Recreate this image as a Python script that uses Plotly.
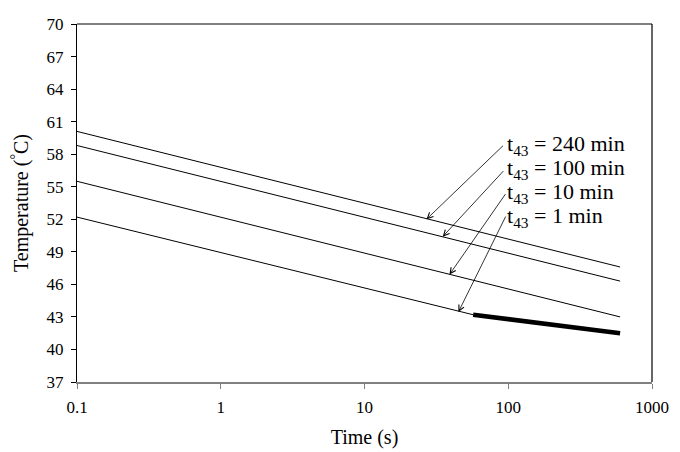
import numpy as np
import plotly.graph_objects as go

# Time (s) endpoints and temperatures (deg C) for each t43 curve
time_full = [0.1, 600]
t240 = [60.1, 47.6]
t100 = [58.8, 46.3]
t10 = [55.5, 43.0]
time_short = [0.1, 57]
t1 = [52.2, 43.2]
time_thick = [57, 600]
thick_vals = [43.2, 41.5]

labels = ["t<sub>43</sub> = 240 min", "t<sub>43</sub> = 100 min",
          "t<sub>43</sub> = 10 min", "t<sub>43</sub> = 1 min"]
# arrow heads (time, temperature) on each curve
head_time = [27, 35, 39, 45]
head_temp = [52.0, 50.4, 46.9, 43.45]

FONT = "Liberation Serif"
# page body has an 8px margin, so the figure is shrunk to fit the 680x452 window
W, H = 672, 444
L, R, T, B = 69, 28, 7, 69
PW, PH = W - L - R, H - T - B

fig = go.Figure()
for xs, ys in [(time_full, t240), (time_full, t100), (time_full, t10), (time_short, t1)]:
    fig.add_trace(go.Scatter(x=xs, y=ys, mode="lines",
                             line=dict(color="black", width=1), showlegend=False))
fig.add_trace(go.Scatter(x=time_thick, y=thick_vals, mode="lines",
                         line=dict(color="black", width=4.5), showlegend=False))

# arrows from labels to curves
offsets = [(78, -75), (62, -67), (57, -82), (48, -97)]
for (ax, ay), hx, hy in zip(offsets, head_time, head_temp):
    fig.add_annotation(x=np.log10(hx), y=hy, xref="x", yref="y", text="",
                       showarrow=True, ax=ax, ay=ay, arrowhead=5, arrowsize=1.4,
                       arrowwidth=0.8, arrowcolor="black")

# label text (window pixel positions converted to paper coordinates)
label_y = [139, 164, 189, 213]
for lab, py in zip(labels, label_y):
    fig.add_annotation(x=(505 - 77) / PW, y=(383 - py) / PH, xref="paper", yref="paper",
                       text=lab, showarrow=False, xanchor="left", yanchor="middle",
                       font=dict(family=FONT, size=22, color="black"))

# frame top and right
fig.add_shape(type="line", xref="paper", yref="paper", x0=0, x1=1, y0=1, y1=1,
              line=dict(color="black", width=1.2))
fig.add_shape(type="line", xref="paper", yref="paper", x0=1, x1=1, y0=0, y1=1,
              line=dict(color="black", width=1.2))

fig.update_layout(
    width=W, height=H,
    margin=dict(l=L, r=R, t=T, b=B),
    plot_bgcolor="white", paper_bgcolor="white",
    font=dict(family=FONT, size=17, color="black"),
    xaxis=dict(type="log", range=[-1, 3], tickvals=[0.1, 1, 10, 100, 1000],
               ticktext=["0.1", "1", "10", "100", "1000"],
               showgrid=False, zeroline=False, showline=True, linecolor="#808080",
               linewidth=1.5, ticks="outside", ticklen=5, tickcolor="#808080",
               ticklabelstandoff=4, ticklabeloverflow="allow",
               title=dict(text="Time (s)", standoff=14)),
    yaxis=dict(range=[37, 70], dtick=3, tick0=37, showgrid=False, zeroline=False,
               showline=True, linecolor="black", linewidth=1.2, ticks="outside",
               ticklen=5, tickcolor="black", ticklabelstandoff=4,
               ticklabeloverflow="allow",
               title=dict(text="Temperature (<sup>°</sup>C)", standoff=14)),
)

fig.write_html("out.html")
